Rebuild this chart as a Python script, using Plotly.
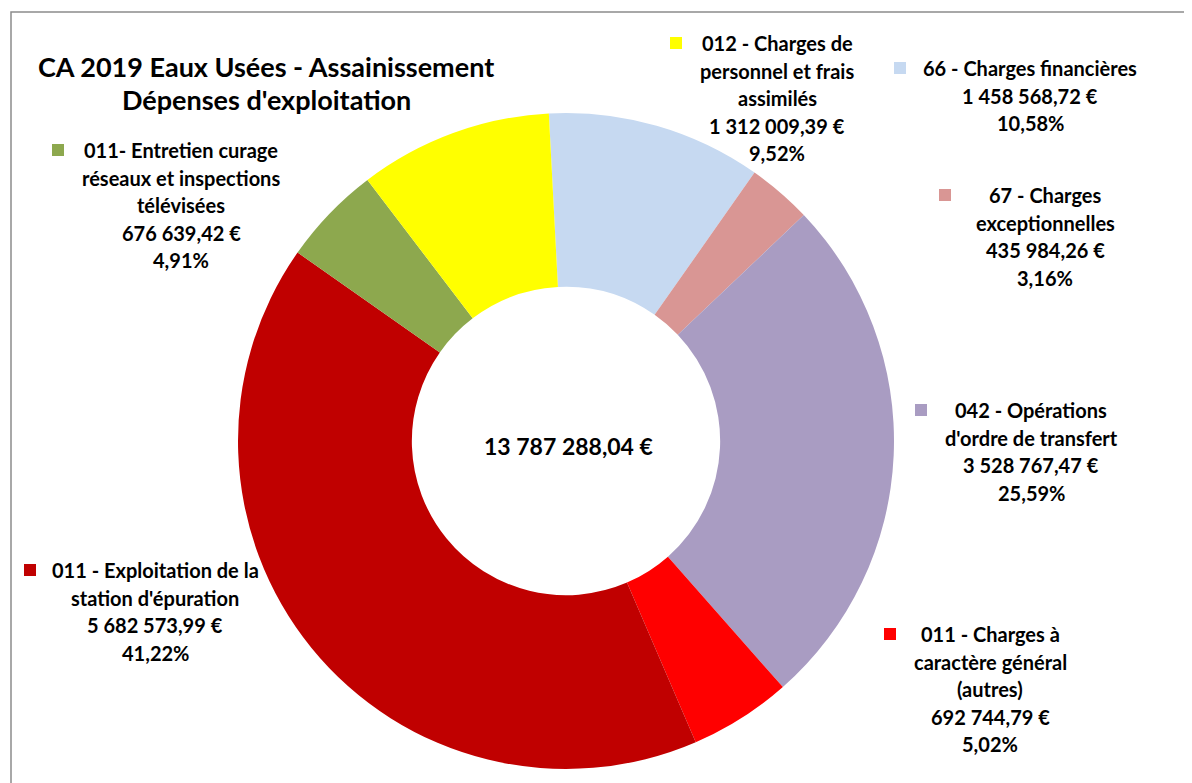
import plotly.graph_objects as go

W, H = 1192, 783
OFF = 8  # default page body margin

# ---- data ----
categories = [
    "66 - Charges financières",
    "67 - Charges exceptionnelles",
    "042 - Opérations d'ordre de transfert",
    "011 - Charges à caractère général (autres)",
    "011 - Exploitation de la station d'épuration",
    "011- Entretien curage réseaux et inspections télévisées",
    "012 - Charges de personnel et frais assimilés",
]
label_lines = [
    ["66 - Charges financières"],
    ["67 - Charges", "exceptionnelles"],
    ["042 - Opérations", "d'ordre de transfert"],
    ["011 - Charges à", "caractère général", "(autres)"],
    ["011 - Exploitation de la", "station d'épuration"],
    ["011- Entretien curage", "réseaux et inspections", "télévisées"],
    ["012 - Charges de", "personnel et frais", "assimilés"],
]
values = [1458568.72, 435984.26, 3528767.47, 692744.79, 5682573.99, 676639.42, 1312009.39]
colors = ["#C6D9F1", "#D99694", "#A99CC2", "#FF0000", "#C00000", "#8DA84E", "#FFFF00"]

title_lines = ["CA 2019 Eaux Usées - Assainissement", "Dépenses d'exploitation"]

# label layout (pixel positions): text center x, first line y, square x
label_pos = [
    (1030, 68, 900),
    (1045, 195, 945),
    (1031, 410, 921),
    (990, 634, 890),
    (155, 570, 30),
    (181, 150, 58),
    (777, 43, 676),
]

FONT = "Lato"
LBL_SIZE = 20
LINE_H = 27.6


def fr_num(v):
    s = f"{v:,.2f}"
    s = s.replace(",", " ").replace(".", ",")
    return s + " €"


def px(x):
    return (x - OFF) / W


def py(y):
    return 1 - (y - OFF) / H


total = sum(values)

cx, cy, R = 566, 441, 328

fig = go.Figure()
fig.add_trace(go.Pie(
    labels=categories,
    values=values,
    marker=dict(colors=colors, line=dict(width=0)),
    hole=0.47,
    sort=False,
    direction="clockwise",
    rotation=-3,
    textinfo="none",
    hoverinfo="label+value+percent",
    showlegend=False,
    domain=dict(x=[px(cx - R), px(cx + R)], y=[py(cy + R), py(cy - R)]),
))

annotations = []
shapes = []

for lines, v, col, (tx, ty, sx) in zip(label_lines, values, colors, label_pos):
    pct = f"{v / total * 100:.2f}".replace(".", ",") + "%"
    all_lines = lines + [fr_num(v), pct]
    for i, ln in enumerate(all_lines):
        annotations.append(dict(
            x=px(tx), y=py(ty + i * LINE_H), xref="paper", yref="paper",
            text=ln, showarrow=False, xanchor="center", yanchor="middle",
            font=dict(family=FONT, size=LBL_SIZE, color="#000000", weight="bold"),
        ))
    shapes.append(dict(
        type="rect", xref="paper", yref="paper",
        x0=px(sx - 6), x1=px(sx + 6), y0=py(ty + 6), y1=py(ty - 6),
        fillcolor=col, line=dict(width=0),
    ))

for i, ln in enumerate(title_lines):
    annotations.append(dict(
        x=px(266), y=py(66 + i * 33), xref="paper", yref="paper",
        text=ln, showarrow=False, xanchor="center", yanchor="middle",
        font=dict(family=FONT, size=27, color="#000000", weight="bold"),
    ))

annotations.append(dict(
    x=px(568), y=py(446), xref="paper", yref="paper",
    text=fr_num(total), showarrow=False, xanchor="center", yanchor="middle",
    font=dict(family=FONT, size=23, color="#000000", weight="bold"),
))

shapes.append(dict(
    type="rect", xref="paper", yref="paper",
    x0=px(11), x1=px(W + 20), y0=py(H + 20), y1=py(12),
    line=dict(color="#8C8C8C", width=1.5), fillcolor="rgba(0,0,0,0)",
))

fig.update_layout(
    width=W, height=H,
    margin=dict(l=0, r=0, t=0, b=0),
    paper_bgcolor="white",
    plot_bgcolor="white",
    annotations=annotations,
    shapes=shapes,
)

fig.write_html("out.html")
